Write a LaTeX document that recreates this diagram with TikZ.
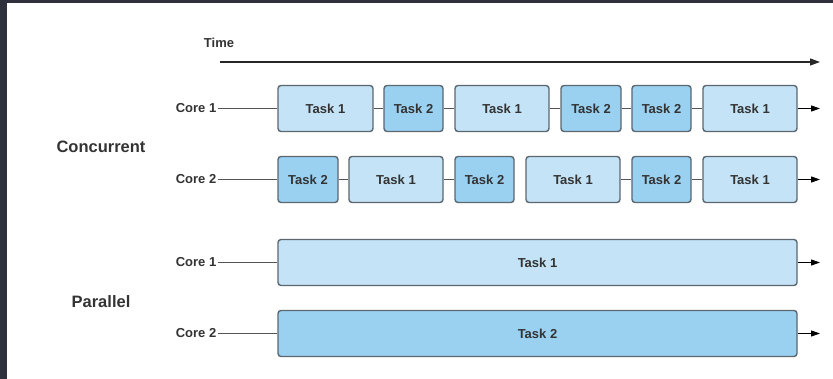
\documentclass[tikz,border=0pt]{standalone}
\usepackage{fontspec}
\setmainfont{Liberation Sans}
\usetikzlibrary{arrows.meta}

\definecolor{frame}{HTML}{2E303C}
\definecolor{txt}{HTML}{333333}
\definecolor{edge}{HTML}{5C6770}
\definecolor{wire}{HTML}{555555}
\definecolor{lightfill}{HTML}{C4E3F6}
\definecolor{darkfill}{HTML}{9AD1F1}

\tikzset{
  smallfont/.style={font=\bfseries\fontsize{13}{15}\selectfont, text=txt},
  taskbox/.style={draw=edge, line width=1.4pt, rounded corners=3pt,
    minimum height=46pt, inner sep=0pt, smallfont},
  tone/.style={taskbox, fill=lightfill},
  ttwo/.style={taskbox, fill=darkfill},
  corelabel/.style={anchor=east, inner sep=1.5pt, smallfont},
  grouplabel/.style={font=\bfseries\fontsize{16.5}{18}\selectfont, text=txt},
  wireline/.style={draw=wire, line width=1.1pt},
  flow/.style={draw=black, line width=1.1pt, -{Triangle[length=9pt,width=6pt]}},
  timeline/.style={draw=black!85, line width=1.2pt, -{Triangle[length=10pt,width=7pt]}}
}

\begin{document}
\begin{tikzpicture}[x=1pt, y=-1pt]
  % page: dark frame on the left and top, white canvas
  \fill[frame] (0,0) rectangle (833,379);
  \fill[white] (7,3) rectangle (833,379);
  \useasboundingbox (0,0) rectangle (833,379);

  % time axis
  \node[smallfont] (time) at (219,43) {Time};
  \coordinate (t0) at (220,62);
  \coordinate (t1) at (820,62);
  \draw[timeline] (t0) -- (t1);

  % group titles
  \node[grouplabel] (conc) at (101,147) {Concurrent};
  \node[grouplabel] (par) at (101,302) {Parallel};

  % concurrent, core 1
  \node[corelabel] (c1) at (218,108.5) {Core 1};
  \node[tone, minimum width=95pt] (a1) at (325.5,108.5) {Task 1};
  \node[ttwo, minimum width=59pt] (a2) at (413.5,108.5) {Task 2};
  \node[tone, minimum width=94pt] (a3) at (502,108.5) {Task 1};
  \node[ttwo, minimum width=60pt] (a4) at (591,108.5) {Task 2};
  \node[ttwo, minimum width=59pt] (a5) at (661.5,108.5) {Task 2};
  \node[tone, minimum width=94pt] (a6) at (750,108.5) {Task 1};
  \coordinate (ae) at (820,108.5);
  \draw[wireline] (c1) -- (a1);
  \draw[wireline] (a1) -- (a2);
  \draw[wireline] (a2) -- (a3);
  \draw[wireline] (a3) -- (a4);
  \draw[wireline] (a4) -- (a5);
  \draw[wireline] (a5) -- (a6);
  \draw[flow] (a6) -- (ae);

  % concurrent, core 2
  \node[corelabel] (c2) at (218,179.5) {Core 2};
  \node[ttwo, minimum width=60pt] (b1) at (308,179.5) {Task 2};
  \node[tone, minimum width=94pt] (b2) at (396,179.5) {Task 1};
  \node[ttwo, minimum width=59pt] (b3) at (484.5,179.5) {Task 2};
  \node[tone, minimum width=94pt] (b4) at (573,179.5) {Task 1};
  \node[ttwo, minimum width=59pt] (b5) at (661.5,179.5) {Task 2};
  \node[tone, minimum width=94pt] (b6) at (750,179.5) {Task 1};
  \coordinate (be) at (820,179.5);
  \draw[wireline] (c2) -- (b1);
  \draw[wireline] (b1) -- (b2);
  \draw[wireline] (b2) -- (b3);
  \draw[wireline] (b4) -- (b5);
  \draw[wireline] (b5) -- (b6);
  \draw[flow] (b6) -- (be);

  % parallel, core 1 and core 2
  \node[corelabel] (p1) at (218,262.5) {Core 1};
  \node[tone, minimum width=519pt] (q1) at (537.5,262.5) {Task 1};
  \coordinate (qe1) at (820,262.5);
  \draw[wireline] (p1) -- (q1);
  \draw[flow] (q1) -- (qe1);

  \node[corelabel] (p2) at (218,333.5) {Core 2};
  \node[ttwo, minimum width=519pt] (q2) at (537.5,333.5) {Task 2};
  \coordinate (qe2) at (820,333.5);
  \draw[wireline] (p2) -- (q2);
  \draw[flow] (q2) -- (qe2);
\end{tikzpicture}
\end{document}
